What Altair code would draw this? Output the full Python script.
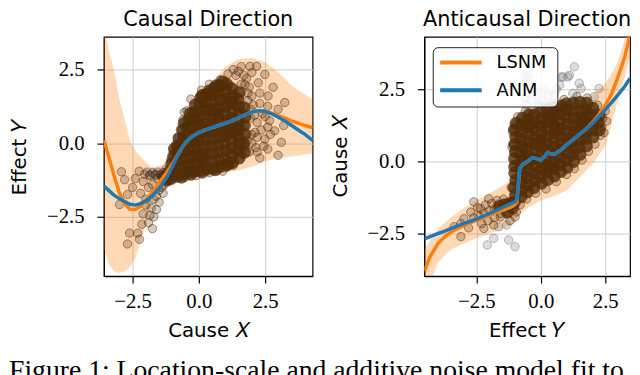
import altair as alt
import pandas as pd

# ------------------------------------------------------------------ data
TICKS = [-2.5, 0.0, 2.5]
CAPTION = "Figure 1: Location-scale and additive noise model fit to"
LEGEND_LABELS = ["LSNM", "ANM"]
LEGEND_COLORS = ["#ff7f0e", "#1f77b4"]

# ---- Causal direction (x = Cause X, y = Effect Y)
left_line_x = [-3.58, -3.4, -3.2, -3.0, -2.8, -2.6, -2.4, -2.2, -2.0, -1.8, -1.6, -1.4, -1.2, -1.0,
               -0.8, -0.6, -0.4, -0.2, 0.0, 0.25, 0.5, 0.75, 1.0, 1.25, 1.5, 1.75, 2.0, 2.25, 2.5,
               2.75, 3.0, 3.25, 3.5, 3.75, 4.0, 4.29]
left_anm = [-1.45, -1.6, -1.76, -1.88, -1.98, -2.07, -2.1, -2.05, -1.95, -1.82, -1.63, -1.42, -1.15, -0.8,
            -0.42, -0.1, 0.12, 0.26, 0.36, 0.45, 0.53, 0.6, 0.67, 0.76, 0.86, 0.97, 1.06, 1.1, 1.08,
            1.0, 0.88, 0.75, 0.6, 0.45, 0.3, 0.1]
left_lsnm = [0.1, -0.45, -1.1, -1.68, -2.05, -2.24, -2.25, -2.14, -1.95, -1.72, -1.48, -1.22, -0.98, -0.72,
             -0.4, -0.1, 0.12, 0.26, 0.36, 0.45, 0.53, 0.6, 0.67, 0.76, 0.86, 0.97, 1.06, 1.1, 1.08,
             1.02, 0.93, 0.85, 0.76, 0.68, 0.6, 0.53]
left_band_x = [-3.58, -3.4, -3.2, -3.0, -2.8, -2.6, -2.4, -2.2, -2.0, -1.8, -1.6, -1.4, -1.2, -1.0,
               -0.75, -0.5, -0.25, 0.0, 0.5, 1.0, 1.5, 2.0, 2.5, 3.0, 3.5, 4.0, 4.29]
left_band_hi = [3.9, 3.2, 2.45, 1.5, 0.8, 0.1, -0.25, -0.45, -0.65, -0.8, -0.82, -0.75, -0.55, -0.2,
                0.3, 0.75, 1.1, 1.45, 2.05, 2.6, 2.85, 2.9, 2.75, 2.4, 1.95, 1.65, 1.48]
left_band_lo = [-3.6, -4.1, -4.35, -4.4, -4.35, -4.2, -3.9, -3.35, -2.75, -2.2, -1.75, -1.55, -1.45, -1.35,
                -1.3, -1.25, -1.2, -1.15, -1.1, -1.0, -0.92, -0.8, -0.62, -0.5, -0.45, -0.38, -0.35]

left_core = [
    (-1.05, -1.2), (-0.98, -0.95), (-1.02, -0.7), (-0.95, -0.45), (-0.92, -0.2),
    (-1.2, -1.25), (-1.3, -1.15), (-1.15, -1.0),
    (-0.82, -1.12), (-0.78, -0.85), (-0.83, -0.6), (-0.77, -0.35), (-0.8, -0.1), (-0.74, 0.15),
    (-0.62, -1.05), (-0.57, -0.8), (-0.63, -0.55), (-0.58, -0.3), (-0.61, -0.05), (-0.56, 0.2), (-0.6, 0.45), (-0.55, 0.68),
    (-0.42, -0.98), (-0.38, -0.72), (-0.41, -0.47), (-0.37, -0.22), (-0.43, 0.05), (-0.39, 0.3), (-0.4, 0.55), (-0.36, 0.8), (-0.33, 1.0),
    (-0.2, -0.95), (-0.17, -0.7), (-0.23, -0.45), (-0.18, -0.2), (-0.22, 0.05), (-0.16, 0.3), (-0.21, 0.55), (-0.17, 0.8), (-0.2, 1.05), (-0.13, 1.3),
    (0.02, -0.92), (-0.03, -0.65), (0.03, -0.4), (-0.02, -0.15), (0.01, 0.1), (0.04, 0.35), (-0.01, 0.6), (0.03, 0.85), (0.0, 1.1), (0.05, 1.35), (0.08, 1.55),
    (0.27, -0.88), (0.22, -0.6), (0.26, -0.35), (0.23, -0.1), (0.28, 0.15), (0.24, 0.4), (0.27, 0.65), (0.22, 0.9), (0.26, 1.15), (0.29, 1.4), (0.3, 1.66),
    (0.52, -0.85), (0.48, -0.6), (0.53, -0.35), (0.47, -0.1), (0.51, 0.15), (0.49, 0.4), (0.54, 0.65), (0.5, 0.9), (0.47, 1.15), (0.52, 1.4), (0.55, 1.65), (0.58, 1.86),
    (0.77, -0.8), (0.73, -0.55), (0.76, -0.3), (0.72, -0.05), (0.78, 0.2), (0.74, 0.45), (0.77, 0.7), (0.73, 0.95), (0.76, 1.2), (0.79, 1.45), (0.74, 1.7), (0.8, 1.95),
    (1.02, -0.75), (0.98, -0.5), (1.03, -0.25), (0.97, 0.0), (1.01, 0.25), (0.99, 0.5), (1.04, 0.75), (0.98, 1.0), (1.02, 1.25), (0.99, 1.5), (1.03, 1.75), (1.05, 2.0),
    (1.27, -0.65), (1.23, -0.4), (1.26, -0.15), (1.22, 0.1), (1.28, 0.35), (1.24, 0.6), (1.27, 0.85), (1.23, 1.1), (1.26, 1.35), (1.29, 1.6), (1.24, 1.85),
    (1.52, -0.5), (1.48, -0.25), (1.53, 0.0), (1.47, 0.25), (1.51, 0.5), (1.49, 0.75), (1.54, 1.0), (1.5, 1.25), (1.47, 1.5), (1.52, 1.72),
    (1.72, -0.3), (1.68, 0.0), (1.73, 0.3), (1.69, 0.6), (1.74, 0.9), (1.7, 1.2),
    (-0.65, -1.15), (-0.3, -1.05), (0.12, -0.98), (0.62, -0.9), (1.12, -0.7), (0.14, 1.62), (0.4, 1.78), (0.66, 1.95), (0.9, 2.08),
    (-0.12, 0.18), (0.38, 0.52), (0.88, 0.38), (1.38, 0.45), (0.62, 1.05), (0.15, -0.5), (1.13, 1.4),
]
left_sparse = [
    (1.93, 2.61), (2.18, 2.61), (1.49, 2.44), (2.49, 2.33), (2.24, 2.05), (1.74, 1.99), (2.61, 1.6),
    (3.24, 1.38), (2.99, 1.15), (2.67, 0.76), (2.86, 0.42), (2.12, 0.37), (3.11, 0.03), (1.74, -0.08),
    (2.99, -0.41), (2.49, 0.14), (2.0, 2.4), (1.7, 2.3), (2.3, 1.7), (2.05, 1.3), (2.4, 1.0), (2.2, 0.7),
    (2.6, 1.25), (1.9, -0.3), (2.3, -0.5), (2.6, -0.2), (1.6, 2.6), (1.3, 2.5), (2.8, 1.9), (3.2, 0.6),
    (2.0, 0.0), (2.35, 0.45), (1.85, 1.7), (2.7, 0.3), (2.15, -0.15), (1.95, 0.85),
    (1.8, 2.2), (1.6, 2.0), (1.9, 1.9), (1.85, 1.45), (2.0, 1.6), (1.95, 1.15), (2.1, 0.95), (1.8, 0.6),
    (2.0, 0.3), (1.85, 0.1), (2.2, -0.3), (1.6, -0.4), (1.3, -0.75), (0.9, -0.95), (0.4, -1.0), (-0.1, -1.1),
    (-0.5, -1.15), (1.4, 2.3), (1.1, 2.35), (0.8, 2.15), (0.4, 2.0), (0.1, 1.8), (-0.3, 1.5), (-0.55, 1.05),
    (2.3, 1.35), (2.5, 0.9), (2.6, 0.55), (2.45, -0.1), (2.2, 0.2),
    (-2.92, -0.97), (-2.8, -1.24), (-2.69, -1.74), (-2.99, -2.08), (-2.61, -3.05), (-2.69, -3.42),
    (-2.24, -3.26), (-2.31, -3.05), (-2.4, -1.2), (-2.1, -1.3), (-1.9, -1.5), (-2.0, -1.9), (-1.8, -2.2),
    (-1.7, -2.5), (-1.9, -2.7), (-2.1, -2.4), (-1.6, -1.8), (-1.5, -2.0), (-1.75, -1.4), (-1.55, -1.2),
    (-1.4, -1.5), (-2.2, -1.7), (-1.85, -1.1), (-1.65, -1.05), (-2.05, -1.05), (-2.25, -0.95), (-1.45, -1.05),
    (-1.3, -1.1), (-1.2, -1.25), (-1.35, -1.7), (-1.6, -2.25), (-2.0, -2.1), (-2.5, -1.5), (-1.75, -2.9),
    (-1.5, -1.6), (-1.7, -1.9), (-1.3, -1.4), (-1.85, -2.45), (-2.15, -2.75),
]
left_gray = [
    (-1.95, -0.98), (-1.75, -1.0), (-1.55, -0.98), (-1.35, -1.0), (-1.15, -1.05), (-1.25, -0.9),
    (-1.05, -0.55), (-0.95, -0.3), (-0.88, -0.05), (-0.82, 0.2), (-0.7, 0.45), (-0.6, 0.8), (-0.45, 1.1),
    (-1.45, -1.1), (-1.65, -1.1), (-1.85, -1.08),
]

# ---- Anticausal direction (x = Effect Y, y = Cause X)
right_line_x = [-4.52, -4.3, -4.0, -3.7, -3.4, -3.0, -2.5, -2.0, -1.5, -1.2, -1.0, -0.93, -0.82, -0.7,
                -0.55, -0.35, -0.15, 0.0, 0.15, 0.27, 0.4, 0.55, 0.75, 1.0, 1.25, 1.5, 1.75, 2.0, 2.25,
                2.5, 2.75, 3.0, 3.25, 3.46]
right_anm = [-2.68, -2.6, -2.5, -2.4, -2.29, -2.15, -2.0, -1.8, -1.6, -1.47, -1.4, -1.3, -0.25, -0.1,
             -0.02, 0.12, 0.1, 0.05, 0.18, 0.31, 0.26, 0.26, 0.38, 0.58, 0.76, 0.94, 1.12, 1.32, 1.55,
             1.8, 2.05, 2.32, 2.6, 2.88]
right_lsnm = [-3.8, -3.3, -2.85, -2.58, -2.4, -2.22, -2.04, -1.86, -1.7, -1.6, -1.5, -1.4, -0.25, -0.1,
              -0.02, 0.12, 0.1, 0.05, 0.18, 0.31, 0.26, 0.26, 0.38, 0.58, 0.76, 0.94, 1.12, 1.35, 1.62,
              1.95, 2.35, 2.95, 3.6, 4.4]
right_band_x = [-4.52, -4.0, -3.5, -3.0, -2.5, -2.0, -1.5, -1.0, -0.9, -0.5, 0.0, 0.5, 1.0, 1.5, 2.0,
                2.5, 2.75, 3.0, 3.25, 3.46]
right_band_hi = [-3.05, -2.35, -1.95, -1.62, -1.35, -1.1, -0.85, -0.55, 0.3, 0.8, 1.1, 1.4, 1.75, 2.05,
                 2.3, 2.7, 3.05, 3.5, 4.2, 5.0]
right_band_lo = [-4.8, -3.5, -3.05, -2.85, -2.65, -2.5, -2.35, -2.1, -1.9, -1.6, -1.35, -1.2, -1.0, -0.55,
                 -0.1, 0.55, 1.3, 2.2, 2.9, 3.6]

right_core = [
    (-1.02, -1.4), (-0.98, -1.15), (-1.03, -0.9), (-0.97, -0.65), (-1.01, -0.4), (-0.99, -0.15), (-1.02, 0.1),
    (-0.98, 0.35), (-1.0, 0.6), (-0.97, 0.85), (-1.01, 1.1), (-0.96, 1.32),
    (-0.77, -1.22), (-0.73, -0.97), (-0.76, -0.72), (-0.72, -0.47), (-0.78, -0.22), (-0.74, 0.03), (-0.77, 0.28),
    (-0.73, 0.53), (-0.76, 0.78), (-0.72, 1.03), (-0.75, 1.28), (-0.71, 1.5),
    (-0.52, -1.05), (-0.48, -0.8), (-0.53, -0.55), (-0.47, -0.3), (-0.51, -0.05), (-0.49, 0.2), (-0.54, 0.45),
    (-0.5, 0.7), (-0.47, 0.95), (-0.52, 1.2), (-0.48, 1.45), (-0.45, 1.62),
    (-0.27, -0.9), (-0.23, -0.65), (-0.26, -0.4), (-0.22, -0.15), (-0.28, 0.1), (-0.24, 0.35), (-0.27, 0.6),
    (-0.23, 0.85), (-0.26, 1.1), (-0.22, 1.35), (-0.25, 1.62),
    (0.02, -0.75), (-0.03, -0.5), (0.03, -0.25), (-0.02, 0.0), (0.01, 0.25), (0.04, 0.5), (-0.01, 0.75),
    (0.03, 1.0), (0.0, 1.25), (0.05, 1.5), (0.02, 1.72),
    (0.27, -0.62), (0.22, -0.37), (0.26, -0.12), (0.23, 0.13), (0.28, 0.38), (0.24, 0.63), (0.27, 0.88),
    (0.22, 1.13), (0.26, 1.38), (0.29, 1.6), (0.25, 1.8),
    (0.52, -0.5), (0.48, -0.25), (0.53, 0.0), (0.47, 0.25), (0.51, 0.5), (0.49, 0.75), (0.54, 1.0),
    (0.5, 1.25), (0.47, 1.5), (0.52, 1.7), (0.55, 1.88),
    (0.77, -0.35), (0.73, -0.1), (0.76, 0.15), (0.72, 0.4), (0.78, 0.65), (0.74, 0.9), (0.77, 1.15),
    (0.73, 1.4), (0.76, 1.65), (0.79, 1.92),
    (1.02, -0.2), (0.98, 0.05), (1.03, 0.3), (0.97, 0.55), (1.01, 0.8), (0.99, 1.05), (1.04, 1.3),
    (0.98, 1.55), (1.02, 1.8), (1.0, 2.0),
    (1.27, 0.0), (1.23, 0.25), (1.26, 0.5), (1.22, 0.75), (1.28, 1.0), (1.24, 1.25), (1.27, 1.5),
    (1.23, 1.75), (1.26, 2.02),
    (1.52, 0.25), (1.48, 0.5), (1.53, 0.75), (1.47, 1.0), (1.51, 1.25), (1.49, 1.5), (1.54, 1.75), (1.5, 2.05),
    (1.77, 0.55), (1.73, 0.8), (1.76, 1.05), (1.72, 1.3), (1.78, 1.55), (1.74, 1.8), (1.77, 2.02),
    (2.02, 0.85), (1.98, 1.1), (2.03, 1.35), (1.97, 1.6), (2.01, 1.85),
    (2.27, 1.1), (2.23, 1.35), (2.26, 1.6),
    (-1.2, -1.45), (-1.4, -1.5), (-1.6, -1.55), (-1.3, -1.75), (-1.1, -1.6),
    (-0.62, 0.1), (-0.12, 0.62), (0.38, -0.2), (0.62, 1.12), (1.12, 0.68), (1.62, 1.38), (-0.38, 1.25),
]
right_sparse = [
    (-3.36, -2.26), (-3.10, -2.6), (-2.72, -1.75), (-2.34, -1.63), (-2.21, -2.32), (-1.83, -2.2),
    (-1.57, -1.92), (-1.32, -1.75), (-1.0, -1.92), (-1.13, -1.4), (-2.6, -1.4), (-2.02, -1.29), (-2.98, -1.98),
    (-1.8, -1.65), (-2.0, -1.7), (-2.2, -1.8), (-2.4, -1.9), (-2.6, -1.95), (-1.55, -1.8), (-1.8, -1.95),
    (-2.05, -2.05), (-2.3, -2.15), (-1.45, -1.3), (-1.7, -1.35), (-2.15, -1.5), (-2.45, -1.6), (-2.8, -2.3),
    (-3.1, -2.15), (-1.2, -2.05), (-0.95, -1.75), (-1.65, -1.6), (-1.9, -1.45), (-1.35, -1.6),
    (2.4, 1.5), (2.35, 1.2), (2.3, 0.9), (2.1, 0.6), (1.85, 0.35), (1.6, 0.05), (1.3, -0.25), (1.0, -0.45),
    (0.6, -0.7), (0.2, -0.95), (-0.2, -1.1), (-0.55, -1.3), (-0.8, -1.5), (2.5, 1.75), (2.2, 1.95),
    (1.8, 2.2), (1.4, 2.25), (0.9, 2.15), (0.4, 2.0), (-0.1, 1.9), (-0.6, 1.75), (-0.9, 1.55),
    (-1.1, 1.1), (-1.12, 0.5), (-1.1, -0.2), (-1.15, -0.9), (2.55, 1.4), (2.45, 1.0),
]
right_gray = [
    (-0.49, 2.93), (1.30, 3.28), (0.86, 2.93), (1.11, 2.99), (0.73, 2.65), (1.49, 2.71), (1.56, 2.53),
    (1.24, 2.36), (2.26, 2.53), (2.07, 2.25), (-0.36, 2.13), (1.94, 1.79), (-0.61, 2.93), (0.79, 2.93),
    (1.05, 2.93), (0.28, 2.3), (0.03, 2.13), (0.41, 1.9), (-0.74, 1.45), (-1.0, 1.28), (-0.87, 0.99),
    (-0.36, 1.79), (-2.08, -2.89), (-1.83, -2.66), (-1.25, -2.72), (-1.0, -2.95), (-1.64, -2.26),
    (-1.32, -2.2), (-0.2, 2.4), (0.1, 2.5), (0.5, 2.3), (-0.1, 2.0), (0.2, 1.95), (-0.55, 1.95),
    (-1.1, 1.0), (-1.1, 0.6), (-1.05, 0.3), (-0.6, 2.2), (0.6, 2.5),
]

# ------------------------------------------------------------------ helpers
BROWN = "#522d06"
SANS = "DejaVu Sans"
SERIF = "Liberation Serif"
PANEL_W_L, PANEL_W_R, PANEL_H = 211, 208, 242


def pts(p):
    return pd.DataFrame(p, columns=["x", "y"])


def panel(title, xdom, ydom, xtitle, ytitle, band_x, band_lo, band_hi, line_x, lsnm, anm,
          core, sparse, gray, gray_color, width, extra=()):
    xs = alt.Scale(domain=xdom, nice=False, zero=False)
    ys = alt.Scale(domain=ydom, nice=False, zero=False)
    axx = alt.Axis(values=TICKS, format=".1f", grid=True, labelFont=SERIF, labelFontSize=21,
                   labelPadding=8, titlePadding=9)
    axy = alt.Axis(values=TICKS, format=".1f", grid=True, labelFont=SERIF, labelFontSize=21,
                   labelPadding=13, titlePadding=17)

    def X(f):
        return alt.X(f, type="quantitative", scale=xs, title=xtitle, axis=axx)

    def Y(f):
        return alt.Y(f, type="quantitative", scale=ys, title=ytitle, axis=axy)

    band_df = pd.DataFrame({"x": band_x, "lo": band_lo, "hi": band_hi})
    line_df = pd.DataFrame({"x": line_x, "lsnm": lsnm, "anm": anm})

    band = alt.Chart(band_df).mark_area(color="#ff7f0e", opacity=0.3, clip=True).encode(
        x=X("x"), y=Y("lo"), y2="hi")

    def scatter(p, color, fo, so, size):
        return alt.Chart(pts(p)).mark_point(
            filled=True, fill=color, fillOpacity=fo, stroke=color, strokeOpacity=so,
            strokeWidth=1, size=size, clip=True).encode(x=X("x"), y=Y("y"))

    l_sparse = scatter(sparse, BROWN, 0.25, 0.5, 72)
    l_gray = scatter(gray, gray_color, 0.25, 0.5, 72)
    l_core = scatter(core, BROWN, 0.8, 0.2, 165)

    l_lsnm = alt.Chart(line_df).mark_line(color="#ff7f0e", strokeWidth=3.5, clip=True).encode(
        x=X("x"), y=Y("lsnm"))
    l_anm = alt.Chart(line_df).mark_line(color="#1f77b4", strokeWidth=3.5, clip=True).encode(
        x=X("x"), y=Y("anm"))

    layers = [band, l_gray, l_sparse, l_core, l_lsnm, l_anm] + list(extra)
    return alt.layer(*layers).properties(width=width, height=PANEL_H, title=title)


# caption (cut off at the bottom of the picture, as in the reference)
caption = alt.Chart(pd.DataFrame({"t": [CAPTION]})).mark_text(
    align="left", baseline="alphabetic", font=SERIF, fontSize=28, color="black"
).encode(x=alt.value(-96), y=alt.value(346), text="t:N")

# legend in right panel
leg_df = pd.DataFrame({"label": LEGEND_LABELS, "color": LEGEND_COLORS})
leg_box = alt.Chart(leg_df.head(1)).mark_rect(
    fill="white", fillOpacity=0.85, stroke="#222222", strokeWidth=1, cornerRadius=5
).encode(x=alt.value(9), x2=alt.value(135), y=alt.value(11), y2=alt.value(71))
leg_layers = [leg_box]
for i, (lab, col) in enumerate(zip(LEGEND_LABELS, LEGEND_COLORS)):
    row = leg_df.iloc[[i]]
    yy = 26 + 28 * i
    leg_layers.append(alt.Chart(row).mark_rule(color=col, strokeWidth=4).encode(
        x=alt.value(16), x2=alt.value(58), y=alt.value(yy)))
    leg_layers.append(alt.Chart(row).mark_text(
        align="left", baseline="middle", font=SANS, fontSize=18, color="black"
    ).encode(x=alt.value(73), y=alt.value(yy + 1), text="label:N"))

left = panel("Causal Direction", [-3.58, 4.29], [-4.51, 3.61],
             "Cause \U0001D44B", "Effect \U0001D44C",
             left_band_x, left_band_lo, left_band_hi, left_line_x, left_lsnm, left_anm,
             left_core, left_sparse, left_gray, "#3c3c46", PANEL_W_L, extra=[caption])
right = panel("Anticausal Direction", [-4.52, 3.46], [-3.97, 4.32],
              "Effect \U0001D44C", "Cause \U0001D44B",
              right_band_x, right_band_lo, right_band_hi, right_line_x, right_lsnm, right_anm,
              right_core, right_sparse, right_gray, "#777777", PANEL_W_R, extra=leg_layers)

chart = alt.hconcat(left, right, spacing=113, bounds="flush").properties(
    padding={"left": 0, "top": -2, "right": 0, "bottom": 0}
).configure_axis(
    gridColor="#cbcbcb", gridWidth=1, domainColor="black", domainWidth=1.2,
    tickColor="black", tickSize=7, tickWidth=1.2,
    labelFont=SERIF, labelFontSize=21, labelColor="black",
    titleFont=SANS, titleFontSize=20, titleFontWeight="normal", titleColor="black",
).configure_view(stroke="black", strokeWidth=1.2).configure_title(
    font=SANS, fontSize=21, fontWeight="normal", color="black", offset=7
)

chart.save("out.html", embed_options={"renderer": "svg", "actions": False})
